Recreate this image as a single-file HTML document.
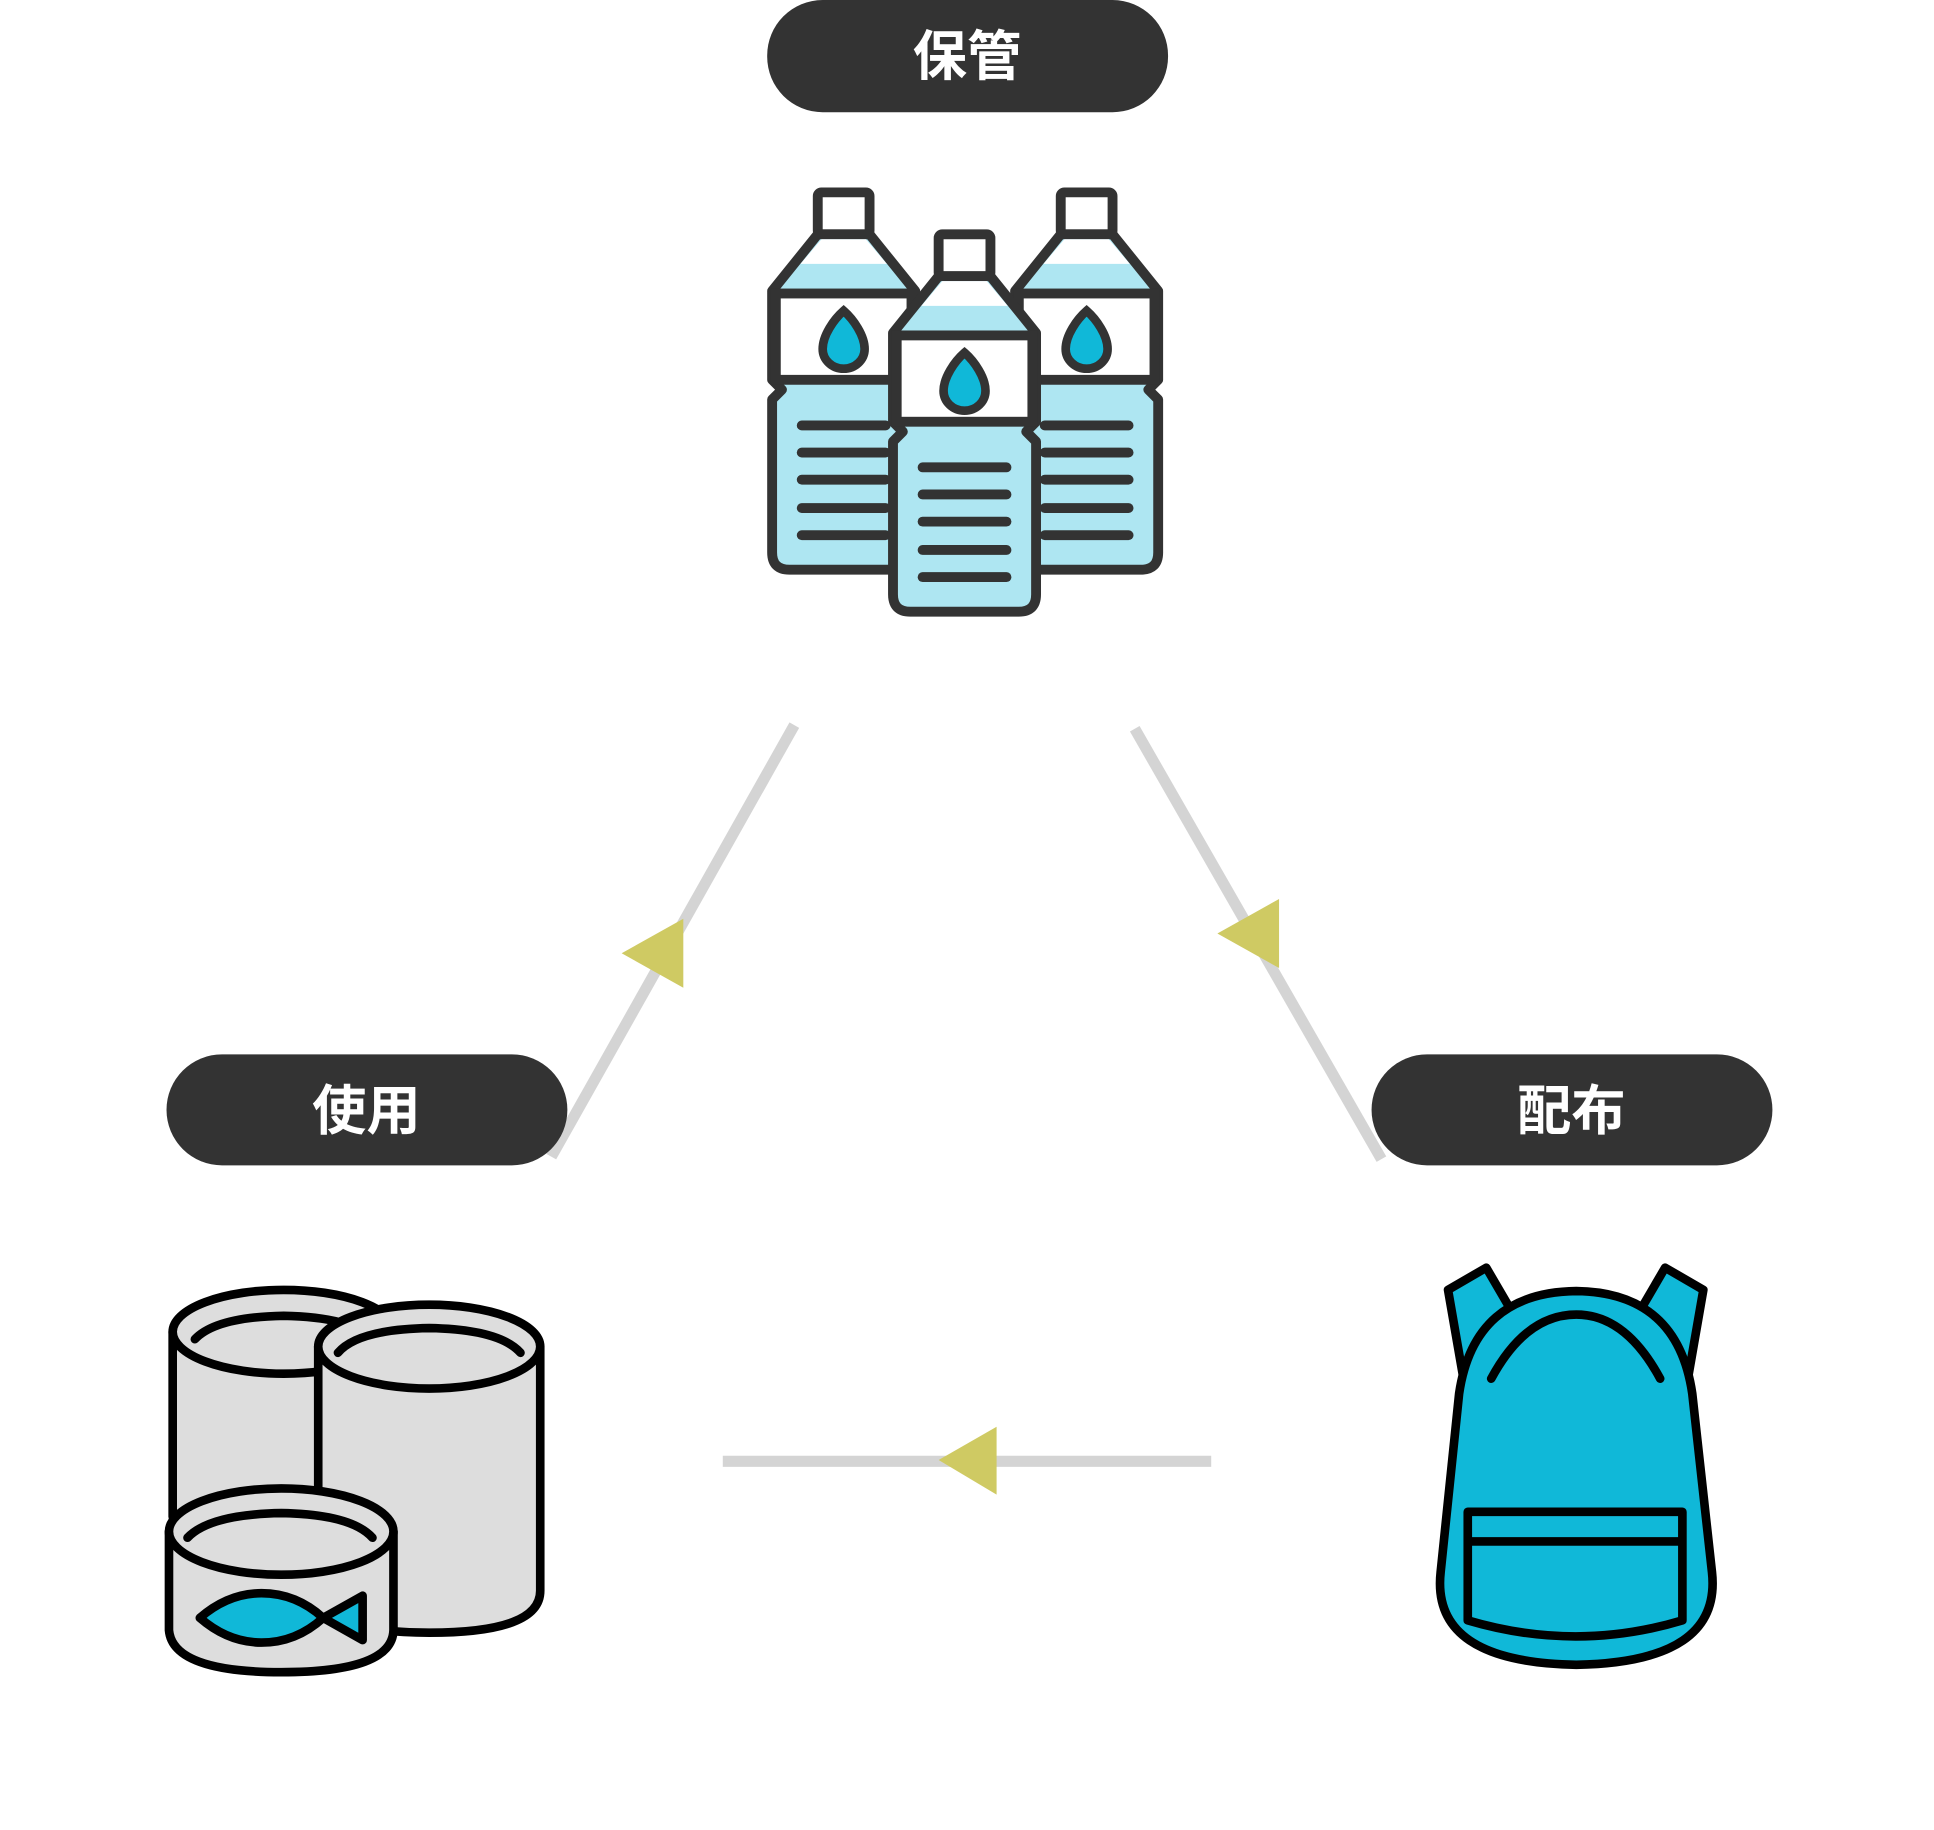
<!DOCTYPE html>
<html><head><meta charset="utf-8"><style>
html,body{margin:0;padding:0;background:#fff;}
svg{display:block;}
text{font-family:"Liberation Sans","Noto Sans CJK JP",sans-serif;font-weight:bold;fill:#fff;}
</style></head><body>
<svg width="1934" height="1830" viewBox="0 0 1568 1484" preserveAspectRatio="none" xmlns="http://www.w3.org/2000/svg">
<!-- connectors -->
<g stroke="#d4d4d4" stroke-width="9">
<line x1="644" y1="588" x2="447" y2="938"/>
<line x1="920" y1="591" x2="1120" y2="940"/>
<line x1="586" y1="1185" x2="982" y2="1185"/>
</g>
<g fill="#cfca63">
<polygon points="504,773 554,745 554,801"/>
<polygon points="987,757 1037,729 1037,785"/>
<polygon points="761,1184 808,1157 808,1212"/>
</g>
<!-- pills -->
<g fill="#333">
<rect x="622" y="0" width="325" height="91" rx="45"/>
<rect x="135" y="855" width="325" height="90" rx="45"/>
<rect x="1112" y="855" width="325" height="90" rx="45"/>
</g>
<text x="784" y="61" font-size="44" text-anchor="middle">保管</text>
<text x="297" y="916" font-size="44" text-anchor="middle">使用</text>
<text x="1274" y="916" font-size="44" text-anchor="middle">配布</text>

<!-- bottles -->
<defs>
<g id="bottle">
 <rect x="-21" y="0" width="42" height="34" rx="3" fill="#fff" stroke="#333" stroke-width="8" stroke-linejoin="round"/>
 <path d="M-21,34 L-58,80 L-58,152 L-50,160 L-58,168 L-58,292 Q-58,306 -44,306 L44,306 Q58,306 58,292 L58,168 L50,160 L58,152 L58,80 L21,34 Z" fill="#aee6f2" stroke="#333" stroke-width="8" stroke-linejoin="round"/>
 <path d="M-18,38 L18,38 L35,58 L-35,58 Z" fill="#fff"/>
 <rect x="-55" y="82" width="110" height="70" fill="#fff" stroke="#333" stroke-width="8"/>
 <path d="M0,96 C-8,103 -17,116 -17,127 A17,16 0 0 0 17,127 C17,116 8,103 0,96 Z" fill="#10b8d8" stroke="#333" stroke-width="7"/>
 <g stroke="#333" stroke-width="8" stroke-linecap="round">
  <line x1="-34" y1="189" x2="34" y2="189"/><line x1="-34" y1="211" x2="34" y2="211"/>
  <line x1="-34" y1="233" x2="34" y2="233"/><line x1="-34" y1="256" x2="34" y2="256"/>
  <line x1="-34" y1="278" x2="34" y2="278"/>
 </g>
</g>
</defs>
<use href="#bottle" x="684" y="156"/>
<use href="#bottle" x="881" y="156"/>
<g>
<rect x="722" y="338" width="12" height="26" fill="#aee6f2"/>
<rect x="830" y="338" width="12" height="26" fill="#aee6f2"/>
</g>
<use href="#bottle" x="782" y="190"/>

<!-- cans -->
<g stroke="#000" stroke-width="7" fill="#ddd" stroke-linejoin="round" stroke-linecap="round">
 <path d="M140,1080 L140,1230 L320,1230 L320,1080 Z"/>
 <ellipse cx="230" cy="1080" rx="90" ry="34"/>
 <path d="M158,1086 Q175,1068 230,1067 Q285,1068 302,1086" fill="none"/>
 <path d="M258,1092 L258,1290 Q260,1324 348,1324 Q438,1324 438,1290 L438,1092 Z"/>
 <ellipse cx="348" cy="1092" rx="90" ry="34"/>
 <path d="M274,1097 Q290,1078 348,1077 Q405,1078 422,1097" fill="none"/>
 <path d="M137,1242 L137,1322 Q140,1356 228,1356 Q318,1356 319,1322 L319,1242 Z"/>
 <ellipse cx="228" cy="1242" rx="91" ry="35"/>
 <path d="M152,1247 Q170,1228 228,1227 Q285,1228 302,1247" fill="none"/>
 <path d="M162,1312 Q185,1292 212,1292 Q240,1292 262,1312 Q240,1332 212,1332 Q185,1332 162,1312 Z" fill="#10b8d8"/>
 <path d="M262,1312 L294,1294 L294,1330 Z" fill="#10b8d8"/>
</g>

<!-- backpack -->
<g stroke="#000" stroke-width="7" fill="#10b8d8" stroke-linejoin="round" stroke-linecap="round">
 <path d="M1174,1046 L1205,1028 L1226,1064 L1186,1115 Z"/>
 <path d="M1381,1046 L1350,1028 L1329,1064 L1369,1115 Z"/>
 <path d="M1183,1130 Q1195,1048 1278,1047 Q1360,1048 1372,1130 L1388,1275 Q1396,1348 1278,1350 Q1160,1348 1168,1275 Z"/>
 <path d="M1209,1118 Q1237,1066 1278,1066 Q1318,1066 1346,1118" fill="none"/>
 <path d="M1190,1226 L1364,1226 L1364,1314 Q1278,1340 1190,1314 Z"/>
 <path d="M1192,1250 L1362,1250" fill="none"/>
</g>
</svg>
</body></html>
